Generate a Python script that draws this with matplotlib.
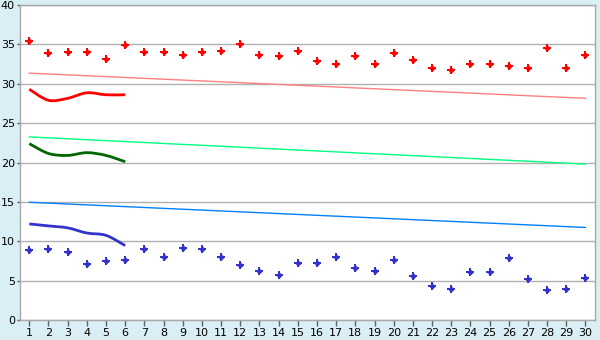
import numpy as np
import matplotlib.pyplot as plt
from matplotlib.path import Path
from matplotlib.patches import PathPatch

days = list(range(1, 31))

# scatter values
high_pts = [35.4, 33.9, 34.0, 34.0, 33.2, 34.9, 34.0, 34.0, 33.7, 34.0,
            34.2, 35.0, 33.6, 33.5, 34.2, 32.9, 32.5, 33.5, 32.5, 33.9,
            33.0, 32.0, 31.8, 32.5, 32.5, 32.3, 32.0, 34.6, 32.0, 33.6]
low_pts = [8.85, 9.0, 8.6, 7.1, 7.45, 7.6, 9.0, 7.95, 9.1, 9.0,
           7.95, 6.95, 6.2, 5.7, 7.2, 7.2, 7.95, 6.55, 6.2, 7.6,
           5.55, 4.3, 4.0, 6.05, 6.05, 7.85, 5.2, 3.8, 4.0, 5.3]

# short smoothed series (first 6 days)
short_days = [1, 2, 3, 4, 5, 6]
red_curve = [29.3, 27.9, 28.15, 28.85, 28.6, 28.6]
green_curve = [22.4, 21.15, 20.9, 21.25, 20.9, 20.1]
blue_curve = [12.2, 11.95, 11.7, 11.05, 10.75, 9.45]

# trend lines (start / end)
trend_days = [1, 30]
red_trend = [31.35, 28.15]
green_trend = [23.25, 19.8]
blue_trend = [14.95, 11.75]


def smooth_path(xs, ys):
    # Catmull-Rom style bezier through the points
    pts = np.column_stack([xs, ys]).astype(float)
    verts = [pts[0]]
    codes = [Path.MOVETO]
    n = len(pts)
    for i in range(n - 1):
        p0 = pts[i - 1] if i > 0 else pts[i]
        p1 = pts[i]
        p2 = pts[i + 1]
        p3 = pts[i + 2] if i + 2 < n else pts[i + 1]
        c1 = p1 + (p2 - p0) / 6.0
        c2 = p2 - (p3 - p1) / 6.0
        verts += [c1, c2, p2]
        codes += [Path.CURVE4] * 3
    return Path(verts, codes)


fig = plt.figure(figsize=(6, 3.4), dpi=100)
fig.patch.set_facecolor("#d9eef5")
ax = fig.add_axes([0.0328, 0.0588, 0.959, 0.9265])
ax.set_facecolor("white")

ax.set_xlim(0.5, 30.5)
ax.set_ylim(0, 40)
ax.set_yticks(range(0, 41, 5))
ax.set_xticks(days)
ax.grid(axis="y", color="#b0b0b0", linewidth=1)
ax.set_axisbelow(True)

for s in ax.spines.values():
    s.set_color("#a8a8a8")
    s.set_linewidth(1)
ax.tick_params(width=1, color="#606060", labelsize=8, labelcolor="black")
ax.tick_params(axis="y", length=2.5, pad=1)
ax.tick_params(axis="x", length=4, pad=2)

ax.plot(trend_days, red_trend, color="#ff8080", linewidth=1)
ax.plot(trend_days, green_trend, color="#00ff80", linewidth=1)
ax.plot(trend_days, blue_trend, color="#0080ff", linewidth=1)

for ys, col in [(red_curve, "#ff0000"), (green_curve, "#006600"),
                (blue_curve, "#3333cc")]:
    ax.add_patch(PathPatch(smooth_path(short_days, ys), facecolor="none",
                           edgecolor=col, linewidth=2))

# diamond-plus markers: a plus with a small diamond core
for ys, col in [(high_pts, "#ff0000"), (low_pts, "#3333cc")]:
    ax.plot(days, ys, linestyle="none", marker="P", markersize=5.6,
            color=col, markeredgewidth=0)
    ax.plot(days, ys, linestyle="none", marker="D", markersize=3.4,
            color=col, markeredgewidth=0)

fig.savefig("out.png", dpi=100, facecolor=fig.get_facecolor())
